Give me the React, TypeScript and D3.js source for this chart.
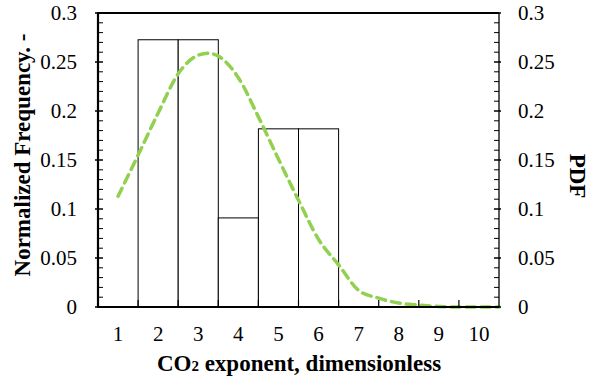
import React from "react";
import * as d3 from "d3";

// Histogram of the CO2 exponent (normalized frequency) with its fitted PDF
const categories = [1, 2, 3, 4, 5, 6, 7, 8, 9, 10];
const frequency = [0, 0.2727, 0.2727, 0.0909, 0.1818, 0.1818, 0, 0, 0, 0];

const pdfX = [1, 1.5, 2, 2.5, 3, 3.25, 3.5, 4, 4.5, 5, 5.5, 6, 6.5, 7, 7.5, 8, 8.5, 9, 9.5, 10, 10.5];
const pdfY = [0.113, 0.155, 0.198, 0.238, 0.257, 0.259, 0.256, 0.234, 0.194, 0.151, 0.109, 0.069, 0.043, 0.017, 0.009, 0.004, 0.002, 0.0005, 0, 0, 0];

const yTicks = [0, 0.05, 0.1, 0.15, 0.2, 0.25, 0.3];

const W = 597;
const H = 381;
const M = { left: 98, right: 499, top: 13, bottom: 307 };
const FONT = "'Liberation Serif', 'Times New Roman', serif";

export default function App() {
  const x = d3.scaleLinear().domain([0.5, 10.5]).range([M.left, M.right]);
  const y = d3.scaleLinear().domain([0, 0.3]).range([M.bottom, M.top]);

  const line = d3
    .line<number>()
    .x((_, i) => x(pdfX[i]))
    .y((d) => y(d))
    .curve(d3.curveMonotoneX);

  const minor = d3.range(0, 31).map((i) => i / 100);
  const boundaries = d3.range(1.5, 10.5, 1);

  return (
    <svg
      width={W}
      height={H}
      style={{ position: "absolute", left: 0, top: 0, background: "#fff" }}
      fontFamily={FONT}
    >
      {/* histogram bars */}
      {categories.map((c, i) =>
        frequency[i] > 0 ? (
          <rect
            key={c}
            x={x(c - 0.5)}
            y={y(frequency[i])}
            width={x(c + 0.5) - x(c - 0.5)}
            height={y(0) - y(frequency[i])}
            fill="#fff"
            stroke="#000"
            strokeWidth={1}
          />
        ) : null
      )}

      {/* fitted PDF */}
      <path
        d={line(pdfY) || ""}
        fill="none"
        stroke="#92D050"
        strokeWidth={3.5}
        strokeDasharray="9 6"
        strokeLinecap="round"
      />

      {/* frame */}
      <line x1={M.left} x2={M.right} y1={M.top} y2={M.top} stroke="#000" strokeWidth={2} />
      <line x1={M.right} x2={M.right} y1={M.top} y2={M.bottom} stroke="#000" strokeWidth={1.3} />
      <line x1={M.left} x2={M.left} y1={M.top - 1} y2={M.bottom + 1} stroke="#000" strokeWidth={2.2} />
      <line x1={M.left - 1} x2={M.right} y1={M.bottom} y2={M.bottom} stroke="#000" strokeWidth={2} />

      {/* minor / major y ticks on both axes */}
      {minor.map((v, i) => {
        const major = i % 5 === 0;
        return (
          <g key={i}>
            <line
              x1={M.left - (major ? 3 : 0)}
              x2={M.left + 5}
              y1={y(v)}
              y2={y(v)}
              stroke="#000"
              strokeWidth={major ? 1.5 : 1}
            />
            <line
              x1={M.right - 5}
              x2={M.right + (major ? 2 : 0)}
              y1={y(v)}
              y2={y(v)}
              stroke="#000"
              strokeWidth={major ? 1.5 : 1}
            />
          </g>
        );
      })}

      {/* x ticks at the bin boundaries */}
      {boundaries.map((b) => (
        <line key={b} x1={x(b)} x2={x(b)} y1={M.bottom} y2={M.bottom - 7} stroke="#000" strokeWidth={1.2} />
      ))}

      {/* tick labels */}
      {yTicks.map((t) => (
        <g key={t} fontSize={21} fill="#000">
          <text x={77} y={y(t)} dy="0.34em" textAnchor="end">
            {String(t)}
          </text>
          <text x={518} y={y(t)} dy="0.34em" textAnchor="start">
            {String(t)}
          </text>
        </g>
      ))}
      {categories.map((c) => (
        <text key={c} x={x(c)} y={341} textAnchor="middle" fontSize={21}>
          {c}
        </text>
      ))}

      {/* axis titles */}
      <text x={299} y={371} textAnchor="middle" fontSize={23} fontWeight="bold">
        CO<tspan fontSize={15}>2</tspan> exponent, dimensionless
      </text>
      <text
        transform={`translate(29.5,155) rotate(-90)`}
        textAnchor="middle"
        fontSize={23}
        fontWeight="bold"
      >
        Normalized Frequency. -
      </text>
      <text
        transform={`translate(570,176) rotate(90)`}
        textAnchor="middle"
        fontSize={23}
        fontWeight="bold"
      >
        PDF
      </text>
    </svg>
  );
}
